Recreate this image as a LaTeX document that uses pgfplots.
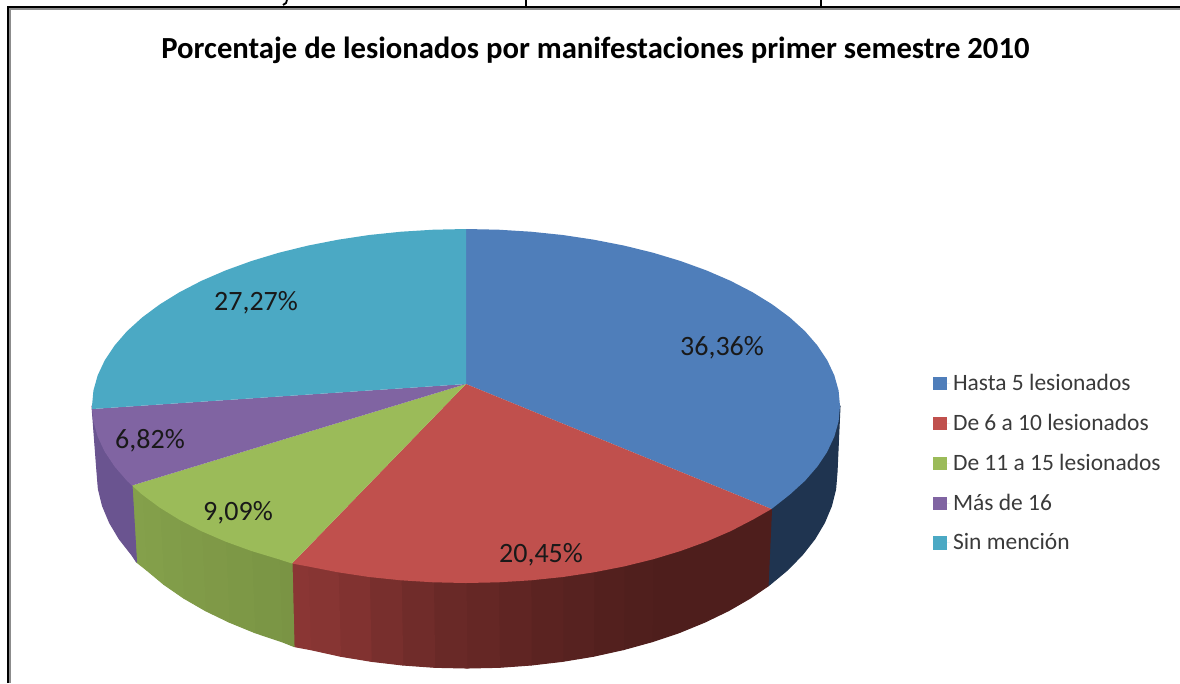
\documentclass[border=0pt]{standalone}
\usepackage{fontspec}
\setmainfont{Carlito}
\usepackage{pgfplots}
\pgfplotsset{compat=1.18}
\definecolor{Cblue}{HTML}{4F7EBA}
\definecolor{Cred}{HTML}{C0504D}
\definecolor{Cgreen}{HTML}{9BBB59}
\definecolor{Cpurple}{HTML}{8064A2}
\definecolor{Ccyan}{HTML}{4BA9C4}
\definecolor{SB}{HTML}{1F3450}
\definecolor{RA}{HTML}{8A3634}
\definecolor{RB}{HTML}{4E1E1C}
\definecolor{GA}{HTML}{7A9444}
\definecolor{GB}{HTML}{84A04B}
\definecolor{SP}{HTML}{6A5490}
\newcommand\sd[2]{\addplot[forget plot,fill=#1,draw=#1,line width=.8pt,line join=round] coordinates {#2} --cycle;}
\begin{document}
\begin{tikzpicture}
\begin{axis}[
  scale only axis,width=885pt,height=512.25pt,
  xmin=0,xmax=1180,ymin=0,ymax=683,y dir=reverse,
  hide axis,clip=true,
  legend image code/.code={\fill[#1] (0pt,-5.1pt) rectangle (10.5pt,4.9pt);\path (0pt,0pt) -- (13.2pt,0pt);},
  legend style={draw=none,fill=none,at={(0.7905,0.4560)},anchor=north west,
    font=\fontsize{17.6}{20}\selectfont\color[HTML]{3A3A3A},row sep=12.2pt,inner sep=0pt,outer sep=0pt,
    /tikz/every even column/.append style={column sep=0pt}},
  legend cell align=left,
]
% side: blue
\sd{SB}{(840,406)(838.6,421.4)(834.3,436.7)(827.2,451.8)(817.4,466.5)(805,480.8)(789.9,494.5)(771.5,509)(768,586)(770.1,584.4)(787.4,570)(802.3,554.8)(814.7,539)(824.4,522.7)(831.4,506)(835.6,489.1)(837,472)}
% side: red, dark part
\sd{RB}{(771.5,509)(752.5,519.8)(730.5,531.2)(706.4,541.6)(680.5,551)(653,559.3)(652,641.7)(679.2,632.6)(704.8,622.1)(728.6,610.6)(750.4,598)(768,586)}
\sd{RA!3!RB}{(653,559.3)(624.1,566.4)(623.4,649.6)(652,641.7)}
\sd{RA!8!RB}{(624.1,566.4)(593.9,572.3)(593.5,656.2)(623.4,649.6)}
\sd{RA!15!RB}{(593.9,572.3)(562.8,577)(562.8,661.3)(593.5,656.2)}
\sd{RA!22!RB}{(562.8,577)(530.9,580.3)(531.2,665)(562.8,661.3)}
\sd{RA!30!RB}{(530.9,580.3)(498.6,582.3)(499.3,667.3)(531.2,665)}
\sd{RA!38!RB}{(498.6,582.3)(466,583)(467,668)(499.3,667.3)}
\sd{RA!45!RB}{(466,583)(433.4,582.3)(434.7,667.3)(467,668)}
\sd{RA!57!RB}{(433.4,582.3)(401.1,580.3)(402.8,665)(434.7,667.3)}
\sd{RA!70!RB}{(401.1,580.3)(369.2,577)(371.2,661.3)(402.8,665)}
\sd{RA!85!RB}{(369.2,577)(338.1,572.3)(340.5,656.2)(371.2,661.3)}
\sd{RA!95!RB}{(338.1,572.3)(307.9,566.4)(310.6,649.6)(340.5,656.2)}
\sd{RA}{(307.9,566.4)(292,563.5)(294,646.5)(310.6,649.6)}
% side: green
\sd{GA}{(292,563.5)(279,559.3)(282,641.7)(294,646.5)}
\sd{GB!15!GA}{(279,559.3)(251.5,551)(254.8,632.6)(282,641.7)}
\sd{GB!30!GA}{(251.5,551)(225.6,541.6)(229.2,622.1)(254.8,632.6)}
\sd{GB!45!GA}{(225.6,541.6)(201.5,531.2)(205.4,610.6)(229.2,622.1)}
\sd{GB!60!GA}{(201.5,531.2)(179.5,519.8)(183.6,598)(205.4,610.6)}
\sd{GB!75!GA}{(179.5,519.8)(159.6,507.5)(163.9,584.4)(183.6,598)}
\sd{GB!90!GA}{(159.6,507.5)(142.1,494.5)(146.6,570)(163.9,584.4)}
\sd{GB}{(142.1,494.5)(132,485.5)(136.5,562)(146.6,570)}
% side: purple
\sd{SP}{(132,485.5)(127,480.8)(114.6,466.5)(104.8,451.8)(97.7,436.7)(93.4,421.4)(92,406)(97,472)(98.4,489.1)(102.6,506)(109.6,522.7)(119.3,539)(131.7,554.8)(136.5,562)}
% tops
\addplot[fill=Cblue,draw=none] coordinates {(466,384)(466,229)(498.6,229.7)(530.9,231.7)(562.8,235)(593.9,239.7)(624.1,245.6)(653,252.7)(680.5,261)(706.4,270.4)(730.5,280.8)(752.5,292.2)(772.4,304.5)(789.9,317.5)(805,331.2)(817.4,345.5)(827.2,360.2)(834.3,375.3)(838.6,390.6)(840,406)(838.6,421.4)(834.3,436.7)(827.2,451.8)(817.4,466.5)(805,480.8)(789.9,494.5)(771.5,509)} --cycle;
\addlegendentry{Hasta 5 lesionados}
\addplot[fill=Cred,draw=none] coordinates {(466,384)(771.5,509)(752.5,519.8)(730.5,531.2)(706.4,541.6)(680.5,551)(653,559.3)(624.1,566.4)(593.9,572.3)(562.8,577)(530.9,580.3)(498.6,582.3)(466,583)(433.4,582.3)(401.1,580.3)(369.2,577)(338.1,572.3)(307.9,566.4)(292,563.5)} --cycle;
\addlegendentry{De 6 a 10 lesionados}
\addplot[fill=Cgreen,draw=none] coordinates {(466,384)(292,563.5)(279,559.3)(251.5,551)(225.6,541.6)(201.5,531.2)(179.5,519.8)(159.6,507.5)(142.1,494.5)(132,485.5)} --cycle;
\addlegendentry{De 11 a 15 lesionados}
\addplot[fill=Cpurple,draw=none] coordinates {(466,384)(132,485.5)(127,480.8)(114.6,466.5)(104.8,451.8)(97.7,436.7)(93.4,421.4)(92,409)} --cycle;
\addlegendentry{Más de 16}
\addplot[fill=Ccyan,draw=none] coordinates {(466,384)(92,409)(92,406)(93.4,390.6)(97.7,375.3)(104.8,360.2)(114.6,345.5)(127,331.2)(142.1,317.5)(159.6,304.5)(179.5,292.2)(201.5,280.8)(225.6,270.4)(251.5,261)(279,252.7)(307.9,245.6)(338.1,239.7)(369.2,235)(401.1,231.7)(433.4,229.7)(466,229)} --cycle;
\addlegendentry{Sin mención}
% frame
\addplot[forget plot,draw=black!45,line width=2pt] coordinates {(10,683)(10,9)(1180,9)};
\addplot[forget plot,draw=black,line width=1.6pt] coordinates {(8,683)(8,7)(1180,7)};
\addplot[forget plot,draw=black,line width=1pt] coordinates {(526,0)(526,6)};
\addplot[forget plot,draw=black,line width=1pt] coordinates {(821,0)(821,6)};
\addplot[forget plot,draw=black,line width=1.4pt] coordinates {(287,0)(286,3)(283,5)};
% text
\node[font=\fontsize{23}{26}\selectfont\bfseries,anchor=center] at (axis cs:595.5,50) {Porcentaje de lesionados por manifestaciones primer semestre 2010};
\node[font=\fontsize{21}{24}\selectfont,text=black!90] at (axis cs:722,348) {36,36\%};
\node[font=\fontsize{21}{24}\selectfont,text=black!90] at (axis cs:256,303) {27,27\%};
\node[font=\fontsize{21}{24}\selectfont,text=black!90] at (axis cs:150,441) {6,82\%};
\node[font=\fontsize{21}{24}\selectfont,text=black!90] at (axis cs:238,513) {9,09\%};
\node[font=\fontsize{21}{24}\selectfont,text=black!90] at (axis cs:541,555) {20,45\%};
\end{axis}
\path (0pt,0pt) rectangle (885pt,512.25pt);
\end{tikzpicture}
\end{document}
